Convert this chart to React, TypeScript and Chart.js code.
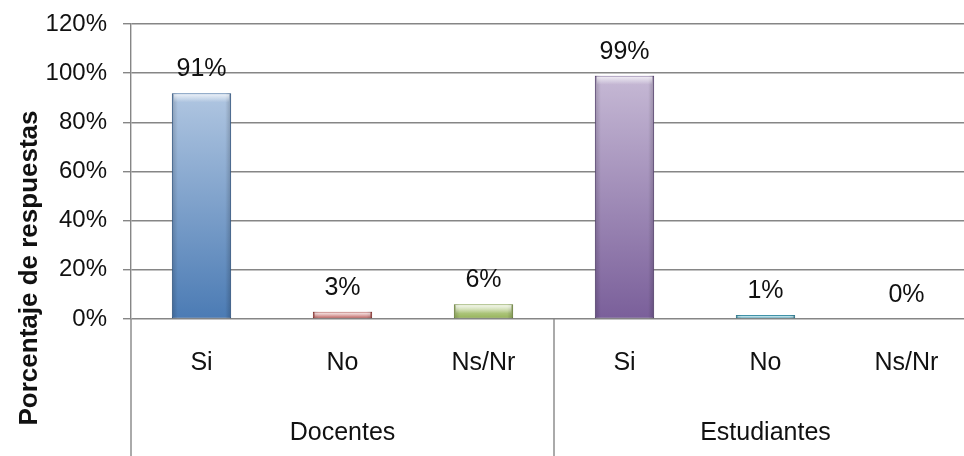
import React, { useEffect, useRef } from "react";
import { Chart, registerables } from "chart.js";

Chart.register(...registerables);

const categories = ["Si", "No", "Ns/Nr", "Si", "No", "Ns/Nr"];
const groups = ["Docentes", "Estudiantes"];
const groupSize = 3;
const values = [91.8, 3, 6, 99, 1.6, 0];
const valueLabels = ["91%", "3%", "6%", "99%", "1%", "0%"];
const barColors = ["#4f81bd", "#c0504d", "#9bbb59", "#8064a2", "#4bacc6", "#f79646"];
const yMin = 0;
const yMax = 120;
const yStep = 20;
const yTitle = "Porcentaje de respuestas";

const FONT = "'Liberation Sans', Arial, sans-serif";
const GRID = "#868686";

function hexToRgb(h: string) {
  const n = parseInt(h.slice(1), 16);
  return [(n >> 16) & 255, (n >> 8) & 255, n & 255];
}
function mix(h: string, w: number, target = 255) {
  const [r, g, b] = hexToRgb(h);
  const f = (c: number) => Math.round(c + (target - c) * w);
  return `rgb(${f(r)},${f(g)},${f(b)})`;
}

const decorPlugin = {
  id: "decor",
  afterDatasetsDraw(chart: any) {
    const ctx = chart.ctx;
    const meta = chart.getDatasetMeta(0);
    ctx.save();
    meta.data.forEach((bar: any, i: number) => {
      const w = bar.width;
      const left = bar.x - w / 2;
      const top = bar.y;
      const h = bar.base - bar.y;
      if (h > 0.5) {
        const hg = ctx.createLinearGradient(left, 0, left + w, 0);
        hg.addColorStop(0, "rgba(0,0,0,0.18)");
        hg.addColorStop(0.1, "rgba(0,0,0,0)");
        hg.addColorStop(0.9, "rgba(0,0,0,0)");
        hg.addColorStop(1, "rgba(0,0,0,0.2)");
        ctx.fillStyle = hg;
        ctx.fillRect(left, top, w, h);
        const bh = Math.min(9, h);
        const vg = ctx.createLinearGradient(0, top, 0, top + bh);
        vg.addColorStop(0, "rgba(255,255,255,0.8)");
        vg.addColorStop(1, "rgba(255,255,255,0)");
        ctx.fillStyle = vg;
        ctx.fillRect(left + 2, top + 1, w - 4, bh);
      }
      ctx.fillStyle = "#111";
      ctx.font = `25px ${FONT}`;
      ctx.textAlign = "center";
      ctx.textBaseline = "middle";
      ctx.fillText(valueLabels[i], bar.x, bar.y - 24);
    });
    ctx.restore();
  },
  afterDraw(chart: any) {
    const ctx = chart.ctx;
    const area = chart.chartArea;
    const xs = chart.scales.x;
    const H = chart.height;
    ctx.save();
    ctx.strokeStyle = GRID;
    ctx.lineWidth = 1.4;
    for (let g = 0; g <= groups.length; g++) {
      const idx = g * groupSize;
      let px: number;
      if (idx === 0) px = xs.left;
      else if (idx >= categories.length) px = xs.right;
      else px = (xs.getPixelForValue(idx - 1) + xs.getPixelForValue(idx)) / 2;
      ctx.beginPath();
      ctx.moveTo(px, area.bottom);
      ctx.lineTo(px, H);
      ctx.stroke();
    }
    ctx.fillStyle = "#111";
    ctx.font = `25px ${FONT}`;
    ctx.textAlign = "center";
    ctx.textBaseline = "middle";
    groups.forEach((g, i) => {
      const a = xs.getPixelForValue(i * groupSize);
      const b = xs.getPixelForValue(i * groupSize + groupSize - 1);
      ctx.fillText(g, (a + b) / 2, 433);
    });
    ctx.font = `bold 26px ${FONT}`;
    ctx.textBaseline = "alphabetic";
    ctx.translate(37, 268);
    ctx.rotate(-Math.PI / 2);
    ctx.fillText(yTitle, 0, 0);
    ctx.restore();
  },
};

export default function App() {
  const ref = useRef<HTMLCanvasElement>(null);
  useEffect(() => {
    if (!ref.current) return;
    const chart = new Chart(ref.current, {
      type: "bar",
      data: {
        labels: categories,
        datasets: [
          {
            data: values,
            backgroundColor: (c: any) => {
              const chartObj = c.chart;
              const color = barColors[c.dataIndex % barColors.length];
              const ys = chartObj.scales && chartObj.scales.y;
              if (!ys || c.parsed == null) return color;
              const top = ys.getPixelForValue(c.parsed.y);
              const bottom = ys.getPixelForValue(0);
              if (!(bottom - top > 1)) return mix(color, 0.35);
              const g = chartObj.ctx.createLinearGradient(0, top, 0, bottom);
              g.addColorStop(0, mix(color, 0.55));
              g.addColorStop(1, mix(color, 0.05, 0));
              return g;
            },
            borderColor: (c: any) => mix(barColors[c.dataIndex % barColors.length], 0.15, 0),
            borderWidth: 1,
            borderSkipped: false,
            categoryPercentage: 1,
            barPercentage: 0.42,
          },
        ],
      },
      options: {
        animation: false,
        responsive: false,
        maintainAspectRatio: false,
        layout: { padding: { top: 24, right: 3, left: 0, bottom: 0 } },
        plugins: {
          legend: { display: false },
          tooltip: { enabled: false },
        },
        scales: {
          x: {
            type: "category",
            offset: true,
            grid: { display: false, drawTicks: false },
            border: { display: false },
            ticks: {
              color: "#111",
              font: { family: FONT, size: 25 },
              padding: 29,
              autoSkip: false,
              maxRotation: 0,
              minRotation: 0,
            },
            afterFit: (s: any) => {
              s.height = 137;
            },
          },
          y: {
            min: yMin,
            max: yMax,
            grid: { color: GRID, lineWidth: 1.4, tickLength: 8, drawTicks: true },
            border: { display: true, color: GRID, width: 1.4 },
            ticks: {
              stepSize: yStep,
              color: "#111",
              font: { family: FONT, size: 24 },
              padding: 16,
              callback: (v: any) => `${v}%`,
            },
            afterFit: (s: any) => {
              s.width = 131;
              s.paddingTop = 0;
              s.paddingBottom = 0;
            },
          },
        },
      },
      plugins: [decorPlugin],
    });
    return () => chart.destroy();
  }, []);
  return (
    <div
      style={{
        position: "absolute",
        left: 0,
        top: 0,
        width: 964,
        height: 456,
        overflow: "hidden",
        background: "#fff",
      }}
    >
      <canvas ref={ref} width={980} height={456} style={{ width: 980, height: 456, display: "block" }} />
    </div>
  );
}
